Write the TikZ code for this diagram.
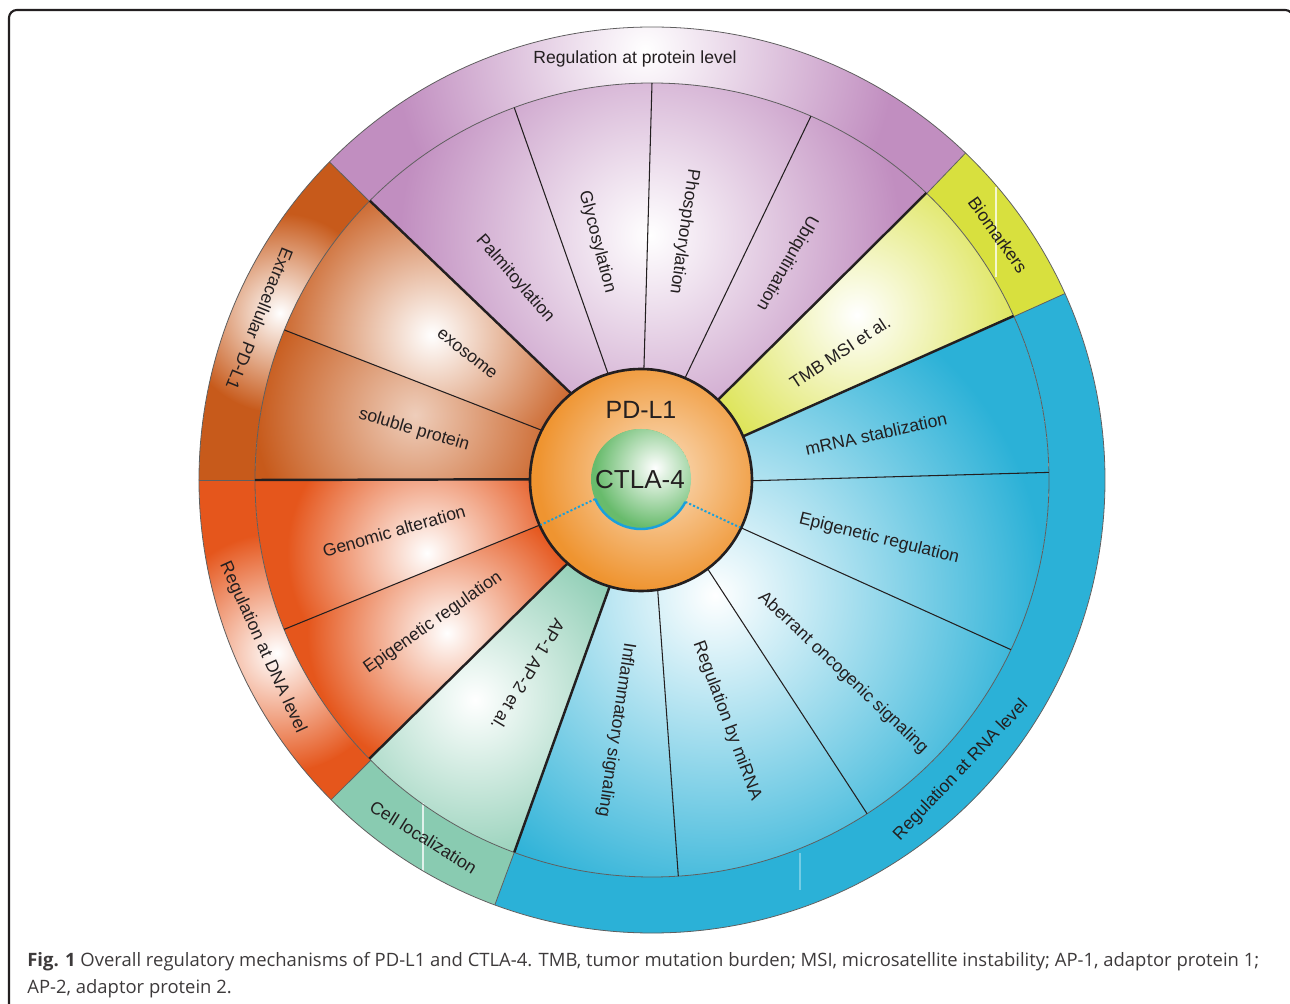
\documentclass[tikz,border=0pt]{standalone}
\usepackage{fontspec}
\setmainfont{Liberation Sans}
\newfontfamily\capfont{Open Sans}
\usetikzlibrary{calc}
\definecolor{cpurple}{RGB}{193,142,192}
\definecolor{cyellow}{RGB}{216,224,62}
\definecolor{cblue}{RGB}{43,177,215}
\definecolor{cgreen}{RGB}{137,203,177}
\definecolor{cred}{RGB}{229,86,28}
\definecolor{cbrown}{RGB}{199,90,27}
\definecolor{corange}{RGB}{239,148,48}
\definecolor{cgreenc}{RGB}{104,187,108}
\definecolor{cdot}{RGB}{26,160,220}
\definecolor{cink}{RGB}{35,31,32}
\definecolor{cgrey}{RGB}{95,95,95}
\colorlet{glowin}{white}
\colorlet{glowout}{black}
\pgfdeclareradialshading[glowin,glowout]{glow}{\pgfpointorigin}{color(0bp)=(glowin); color(25bp)=(glowout); color(50bp)=(glowout)}
% #1 path, #2 base colour, #3 glow centre, #4 glow radius, #5 glow colour
\newcommand\glowfill[5]{%
  \begin{scope}
    \clip #1;
    \fill[#2] #1;
    \colorlet{glowin}{#5}\colorlet{glowout}{#2}%
    \shade[shading=glow] #3 circle (#4);
  \end{scope}}
% inner sector: #1 inner angle start, #2 outer angle start, #3 inner angle end, #4 outer angle end
\newcommand\inreg[4]{(-11,0) -- ($(-11,0)+(#1:105)$) -- (#2:397) arc[start angle=#2, end angle=#4, radius=397] -- ($(-11,0)+(#3:105)$) -- cycle}
% outer band between angles
\newcommand\ringreg[2]{(#1:397) -- (#1:453) arc[start angle=#1, end angle=#2, radius=453] -- (#2:397) arc[start angle=#2, end angle=#1, radius=397] -- cycle}
\tikzset{
  lab/.style={font=\fontsize{10}{12}\selectfont, text=cink, inner sep=0pt},
  divthin/.style={draw=cink, line width=0.6pt},
  divthick/.style={draw=cink, line width=1.4pt},
  bandline/.style={draw=cgrey, line width=0.45pt},
  framel/.style={draw=cink, line width=1.2pt, rounded corners=4.5pt},
  streak/.style={draw=white, line width=1.2pt, opacity=0.75},
  caption/.style={anchor=base west, inner sep=0pt, text=cink!88, font=\capfont\fontsize{10.5}{13}\selectfont}
}
\begin{document}
\begin{tikzpicture}[x=0.02cm, y=0.02cm]
\useasboundingbox (-652,-523) rectangle (638,480);
\begin{scope}
\clip (-652,-523) rectangle (638,480);
\draw[framel] (-643,-545) rectangle (641,470);
\end{scope}

% ---- outer bands
\glowfill{\ringreg{46.2}{135.4}}{cpurple}{(-7,430)}{250}{white}
\fill[cyellow] \ringreg{24.3}{46.2};
\fill[cblue] \ringreg{-110.3}{24.3};
\fill[cgreen] \ringreg{-135.1}{-110.3};
\glowfill{\ringreg{-180}{-135.1}}{cred}{(-375,-173)}{120}{white}
\glowfill{\ringreg{135.4}{180}}{cbrown}{(-372,167)}{100}{white}

% ---- inner sectors
\glowfill{\inreg{46.2}{46.3}{128.5}{135.3}}{cpurple}{(-2,245)}{250}{white}
\glowfill{\inreg{23.1}{24.4}{46.2}{46.3}}{cyellow}{(205,165)}{190}{white}
\glowfill{\inreg{-106.2}{-110.3}{23.1}{24.4}}{cblue}{(63,-115)}{330}{white}
\glowfill{\inreg{-131.1}{-135.4}{-106.2}{-110.3}}{cgreen}{(-177,-220)}{185}{white}
\glowfill{\inreg{-155.9}{-157.9}{-131.1}{-135.4}}{cred}{(-205,-153)}{140}{white}
\glowfill{\inreg{-180.4}{-180}{-155.9}{-157.9}}{cred}{(-225,-73)}{140}{white}
\glowfill{\inreg{153.1}{157.8}{179.6}{180}}{cbrown}{(-237,65)}{160}{cbrown!30!white}
\glowfill{\inreg{128.5}{135.3}{153.1}{157.8}}{cbrown}{(-220,145)}{165}{white}

% ---- glare streaks
\coordinate (s1a) at (344,293); \coordinate (s1b) at (344,203);
\coordinate (s2a) at (-229,-323); \coordinate (s2b) at (-229,-392);
\coordinate (s3a) at (148,-373); \coordinate (s3b) at (148,-410);
\draw[streak] (s1a) -- (s1b);
\draw[streak] (s2a) -- (s2b);
\draw[streak, opacity=0.35] (s3a) -- (s3b);

% ---- circles
\draw[bandline] (0,0) circle (453);
\draw[bandline] (0,0) circle (397);
\foreach \a in {135.4,46.2,24.3,-110.3,-135.1,180}{
  \draw[bandline] (\a:397) -- (\a:453);
}

% ---- sector dividers
\foreach \n/\ti/\to/\sty in {
  1/128.5/135.3/divthick, 2/107.1/110.3/divthin, 3/88.5/90.0/divthin,
  4/66.8/66.4/divthin, 5/46.2/46.3/divthick, 6/23.1/24.4/divthick,
  7/-0.5/1.1/divthin, 8/-25.6/-25.3/divthin, 9/-52.9/-57.2/divthin,
  10/-81.1/-86.2/divthin, 11/-106.2/-110.3/divthick, 12/-131.1/-135.4/divthick,
  13/-155.9/-157.9/divthin, 14/179.6/180/divthick, 15/153.1/157.8/divthin}{
  \coordinate (a\n) at ($(-11,0)+(\ti:105)$);
  \coordinate (b\n) at (\to:397);
  \draw[\sty] (a\n) -- (b\n);
}

% ---- PD-L1 circle
\glowfill{(-11,0) circle (111)}{corange}{(5,8)}{120}{corange!30!white}
\draw[cink, line width=1.5pt] (-11,0) circle (111);

% ---- CTLA-4 circle
\glowfill{(-11,1) circle (50)}{cgreenc}{(3,12)}{60}{white}
\coordinate (gL) at ($(-11,1)+(203.6:50)$);
\coordinate (gR) at ($(-11,1)+(332.7:50)$);
\coordinate (oL) at ($(-11,0)+(-155.9:110)$);
\coordinate (oR) at ($(-11,0)+(-25.6:110)$);
\draw[cdot, line width=1.4pt] (gL) arc[start angle=203.6, end angle=332.7, radius=50];
\draw[cdot, line width=1.1pt, dash pattern=on 1.2pt off 1.2pt] (gL) -- (oL);
\draw[cdot, line width=1.1pt, dash pattern=on 1.2pt off 1.2pt] (gR) -- (oR);

\node[font=\fontsize{14.2}{16}\selectfont, text=cink, inner sep=0pt] (pdl1) at (-11,70) {PD-L1};
\node[font=\fontsize{14.8}{16}\selectfont, text=cink, inner sep=0pt] (ctla4) at (-12,0) {CTLA-4};

% ---- outer band labels
\node[lab] (tprot) at (-17,421) {Regulation at protein level};
\node[lab, rotate=-54.7] (tbio) at (35.3:424) {Biomarkers};
\node[lab, rotate=46.5] (trna) at (-43.2:424) {Regulation at RNA level};
\node[lab, rotate=-32] (tcell) at (237.4:424) {Cell localization};
\node[lab, rotate=-65.5] (tdna) at (203.3:424) {Regulation at DNA level};
\node[lab, rotate=-112] (textra) at (157.7:424) {Extracellular PD-L1};

% ---- inner labels
\node[lab, rotate=-49] (tpalm) at (-137,201) {Palmitoylation};
\node[lab, rotate=-75.3] (tglyc) at (-55,238) {Glycosylation};
\node[lab, rotate=-98.3] (tphos) at (32,248) {Phosphorylation};
\node[lab, rotate=-119.7] (tubiq) at (135,217) {Ubiquitination};
\node[lab, rotate=33.3] (ttmb) at (188,128) {TMB MSI et al.};
\node[lab, rotate=12.4] (tmrna) at (224,46) {mRNA stablization};
\node[lab, rotate=-13.9] (tepib) at (227,-59) {Epigenetic regulation};
\node[lab, rotate=-43.5] (tabe) at (191,-193) {Aberrant oncogenic signaling};
\node[lab, rotate=-69.6] (tmir) at (75,-241) {Regulation by miRNA};
\node[lab, rotate=-98.6] (tinf) at (-36,-250) {Inflammatory signaling};
\node[lab, rotate=-121] (tap) at (-124,-195) {AP-1 AP-2 et al.};
\node[lab, rotate=35] (tepir) at (-219,-143) {Epigenetic regulation};
\node[lab, rotate=16.2] (tgen) at (-258,-51) {Genomic alteration};
\node[lab, rotate=-16.5] (tsol) at (-238,50) {soluble protein};
\node[lab, rotate=-38.3] (texo) at (-185,126) {exosome};

% ---- caption
\node[caption] (cap1) at (-625,-486) {\textbf{Fig. 1} Overall regulatory mechanisms of PD-L1 and CTLA-4. TMB, tumor mutation burden; MSI, microsatellite instability; AP-1, adaptor protein 1;};
\node[caption] (cap2) at (-625,-513) {AP-2, adaptor protein 2.};
\end{tikzpicture}
\end{document}
